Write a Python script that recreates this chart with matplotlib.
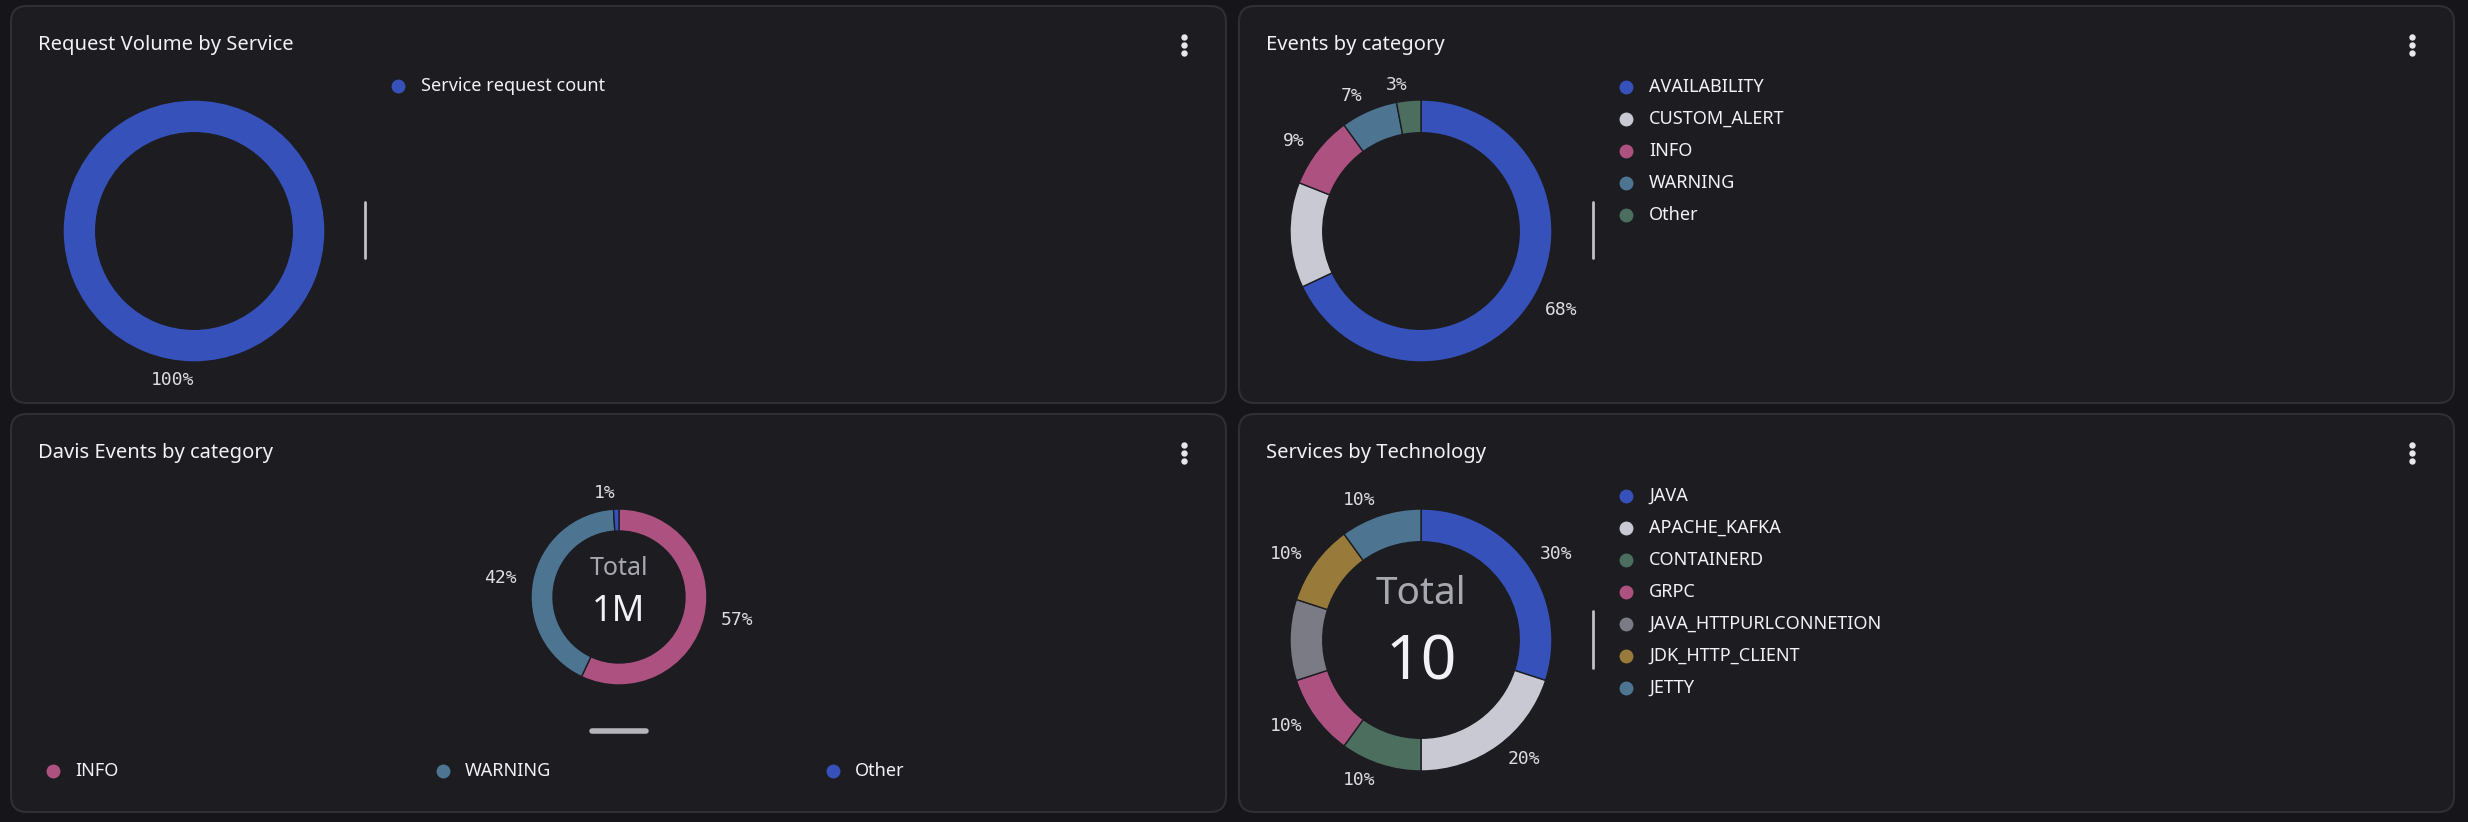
import matplotlib
matplotlib.use("Agg")
import matplotlib.pyplot as plt
from matplotlib.patches import FancyBboxPatch

# ---------------- data ----------------
req_labels = ["Service request count"]
req_values = [100]

events_labels = ["AVAILABILITY", "CUSTOM_ALERT", "INFO", "WARNING", "Other"]
events_values = [68, 13, 9, 7, 3]
events_hidden = ["CUSTOM_ALERT"]

davis_labels = ["INFO", "WARNING", "Other"]
davis_values = [57, 42, 1]
davis_total = "1M"

tech_labels = ["JAVA", "APACHE_KAFKA", "CONTAINERD", "GRPC",
               "JAVA_HTTPURLCONNETION", "JDK_HTTP_CLIENT", "JETTY"]
tech_values = [30, 20, 10, 10, 10, 10, 10]
tech_hidden = ["JAVA_HTTPURLCONNETION"]
tech_total = "10"

titles = ["Request Volume by Service", "Events by category",
          "Davis Events by category", "Services by Technology"]

# ---------------- style ----------------
W, H = 2468, 822
DPI = 100
BG = "#16161a"
PANEL = "#1c1c21"
BORDER = "#2f2f36"
TXT = "#f2f2f5"
LBL = "#dcdce2"

BLUE = "#3651b9"
LGRAY = "#c8c9d3"
PINK = "#ad5280"
STEEL = "#4d7592"
GREEN = "#4c6e5e"
GOLD = "#987a3a"
GRAY = "#7a7b85"

events_colors = [BLUE, LGRAY, PINK, STEEL, GREEN]
davis_colors = [PINK, STEEL, BLUE]
tech_colors = [BLUE, LGRAY, GREEN, PINK, GRAY, GOLD, STEEL]

SANS = ["Noto Sans", "DejaVu Sans"]
MONO = ["DejaVu Sans Mono"]

fig = plt.figure(figsize=(W / DPI, H / DPI), dpi=DPI, facecolor=BG)
bg = fig.add_axes([0, 0, 1, 1])
bg.set_xlim(0, W)
bg.set_ylim(H, 0)
bg.axis("off")
bg.set_facecolor(BG)

panels = [(11, 6, 1226, 403), (1239, 6, 2454, 403),
          (11, 414, 1226, 812), (1239, 414, 2454, 812)]
for (x0, y0, x1, y1), t in zip(panels, titles):
    p = FancyBboxPatch((x0, y0), x1 - x0, y1 - y0,
                       boxstyle="round,pad=0,rounding_size=16",
                       facecolor=PANEL, edgecolor=BORDER, linewidth=1.5)
    bg.add_patch(p)
    bg.text(x0 + 27, y0 + 39, t, fontsize=14.5, color=TXT, family=SANS,
            weight="semibold", va="center", ha="left")
    kx = x1 - 42
    for dy in (-8.3, 0, 8.3):
        bg.plot([kx], [y0 + 39 + dy], marker="o", ms=4.6, color="#e8e8ec",
                mec="none")


def donut(cx, cy, r, values, colors, labdist, names=None, hidden=()):
    L = 220.0
    ax = fig.add_axes([(cx - L) / W, 1 - (cy + L) / H, 2 * L / W, 2 * L / H])
    ax.set_facecolor("none")
    lab = [f"{v}%" for v in values]
    wedges, texts = ax.pie(values, colors=colors, startangle=90,
                           counterclock=False, labels=lab,
                           labeldistance=labdist, radius=1,
                           wedgeprops=dict(width=0.25, edgecolor=PANEL,
                                           linewidth=1.0),
                           textprops=dict(color=LBL, fontsize=13,
                                          family=MONO))
    if names is not None:
        for n, t in zip(names, texts):
            if n in hidden:
                t.set_visible(False)
    lim = L / r
    ax.set_xlim(-lim, lim)
    ax.set_ylim(-lim, lim)
    ax.set_aspect("equal")
    ax.axis("off")
    return ax


def side_legend(x, y0, labels, colors, step=32):
    for i, (lb, c) in enumerate(zip(labels, colors)):
        y = y0 + i * step
        bg.plot([x], [y], marker="o", ms=10, color=c, mec="none")
        bg.text(x + 23, y, lb, fontsize=13, color=TXT, family=SANS,
                va="center", ha="left")


# Panel 1
donut(194, 231, 131, req_values, [BLUE], 1.14)
side_legend(398, 86, req_labels, [BLUE])
bg.plot([365, 365], [202, 258], color="#bfbfc4", lw=2, solid_capstyle="round")

# Panel 2
donut(1421, 231, 131, events_values, events_colors, 1.12,
      events_labels, events_hidden)
side_legend(1626, 87, events_labels, events_colors)
bg.plot([1593, 1593], [202, 258], color="#bfbfc4", lw=2, solid_capstyle="round")

# Panel 3
donut(619, 597, 88, davis_values, davis_colors, 1.18)
bg.text(619, 568, "Total", fontsize=18, color="#a8a8b0", family=SANS,
        ha="center", va="center")
bg.text(619, 612, davis_total, fontsize=26, color="#f2f2f5", family=SANS,
        weight="medium", ha="center", va="center")
bg.plot([592, 646], [731, 731], color="#b4b4ba", lw=4, solid_capstyle="round")
for lb, c, x in zip(davis_labels, davis_colors, [53, 443, 833]):
    bg.plot([x], [771], marker="o", ms=10, color=c, mec="none")
    bg.text(x + 22, 771, lb, fontsize=13, color=TXT, family=SANS,
            va="center", ha="left")

# Panel 4
donut(1421, 640, 131, tech_values, tech_colors, 1.12,
      tech_labels, tech_hidden)
bg.text(1421, 594, "Total", fontsize=28, color="#a8a8b0", family=SANS,
        ha="center", va="center")
bg.text(1421, 663, tech_total, fontsize=45, color="#f2f2f5", family=SANS,
        weight="medium", ha="center", va="center")
side_legend(1626, 496, tech_labels, tech_colors)
bg.plot([1593, 1593], [611, 668], color="#bfbfc4", lw=2, solid_capstyle="round")

fig.savefig("out.png", dpi=DPI, facecolor=BG)
